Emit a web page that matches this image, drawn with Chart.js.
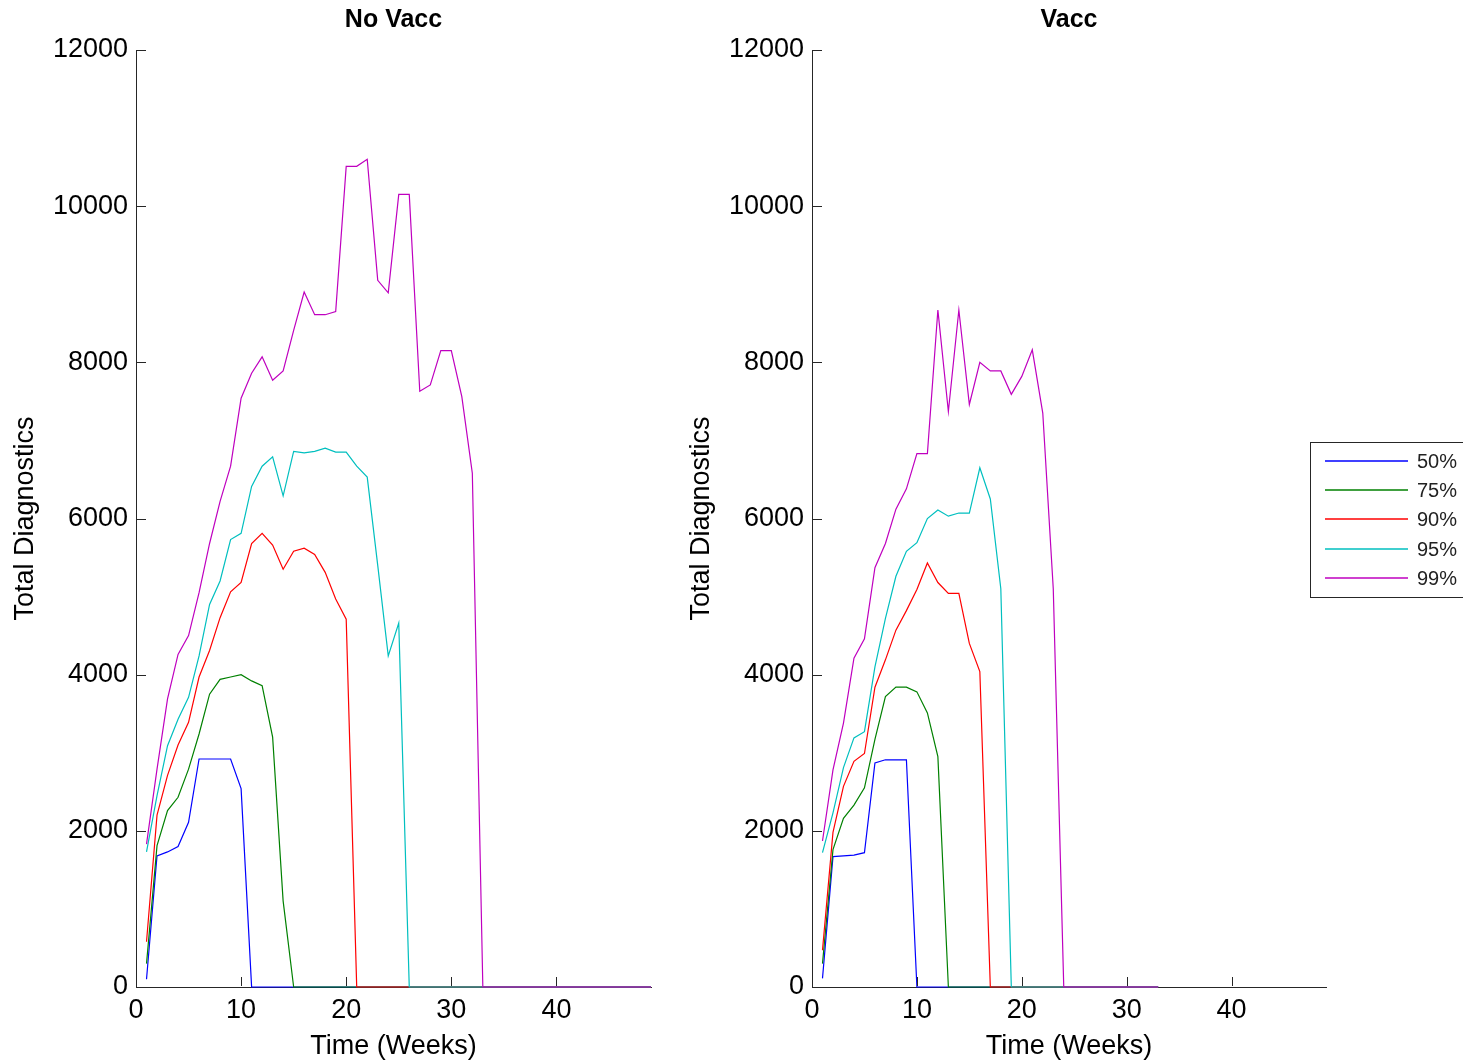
<!DOCTYPE html>
<html>
<head>
<meta charset="utf-8">
<title>Total Diagnostics</title>
<script src="https://cdn.jsdelivr.net/npm/chart.js@4.4.1/dist/chart.umd.min.js"></script>
<style>
    body { margin: 0; background: #fff; }
    #wrap { position: relative; width: 1463px; height: 1061px; overflow: hidden; }
    canvas { position: absolute; top: 0; }
</style>
</head>
<body>
<div id="wrap">
    <canvas id="noVaccChart" width="676" height="1061" style="left:0"></canvas>
    <canvas id="vaccChart" width="787" height="1061" style="left:676px"></canvas>
</div>
<script>
// Weeks on the x axis
const weeks = [
    1, 2, 3, 4, 5, 6, 7, 8, 9, 10, 11, 12, 13, 14, 15, 16, 17, 18, 19, 20,
    21, 22, 23, 24, 25, 26, 27, 28, 29, 30, 31, 32, 33, 34, 35, 36, 37, 38, 39, 40,
    41, 42, 43, 44, 45, 46, 47, 48, 49
];

const seriesLabels = ['50%', '75%', '90%', '95%', '99%'];
const seriesColors = ['#0000ff', '#008000', '#ff0000', '#00bfbf', '#bf00bf'];

const yTicks = [0, 2000, 4000, 6000, 8000, 10000, 12000];
const xTicks = [0, 10, 20, 30, 40];

// No Vacc (49 weeks)
const noVacc50 = [100, 1680, 1730, 1800, 2110, 2920, 2920, 2920, 2920, 2540, 0, 0, 0, 0, 0, 0, 0, 0, 0, 0,
    0, 0, 0, 0, 0, 0, 0, 0, 0, 0, 0, 0, 0, 0, 0, 0, 0, 0, 0, 0, 0, 0, 0, 0, 0, 0, 0, 0, 0];
const noVacc75 = [300, 1810, 2260, 2430, 2790, 3240, 3750, 3940, 3970, 4000, 3920, 3860, 3200, 1100, 0, 0, 0, 0, 0, 0,
    0, 0, 0, 0, 0, 0, 0, 0, 0, 0, 0, 0, 0, 0, 0, 0, 0, 0, 0, 0, 0, 0, 0, 0, 0, 0, 0, 0, 0];
const noVacc90 = [580, 2200, 2710, 3100, 3390, 3970, 4310, 4730, 5060, 5180, 5680, 5810, 5660, 5350, 5580, 5620, 5540, 5310, 4970, 4710,
    0, 0, 0, 0, 0, 0, 0, 0, 0, 0, 0, 0, 0, 0, 0, 0, 0, 0, 0, 0, 0, 0, 0, 0, 0, 0, 0, 0, 0];
const noVacc95 = [1730, 2450, 3090, 3430, 3710, 4240, 4900, 5200, 5730, 5810, 6410, 6670, 6790, 6290, 6860, 6840, 6860, 6900, 6850, 6850,
    6670, 6530, 5400, 4240, 4660, 0, 0, 0, 0, 0, 0, 0, 0, 0, 0, 0, 0, 0, 0, 0, 0, 0, 0, 0, 0, 0, 0, 0, 0];
const noVacc99 = [1830, 2790, 3690, 4260, 4500, 5050, 5680, 6220, 6670, 7540, 7860, 8070, 7770, 7890, 8410, 8900, 8610, 8610, 8650, 10510,
    10510, 10600, 9050, 8890, 10150, 10150, 7630, 7710, 8150, 8150, 7560, 6580, 0, 0, 0, 0, 0, 0, 0, 0, 0, 0, 0, 0, 0, 0, 0, 0, 0];

// Vacc (33 weeks)
const vacc50 = [110, 1670, 1680, 1690, 1720, 2870, 2910, 2910, 2910, 0, 0, 0, 0, 0, 0, 0, 0, 0, 0, 0,
    0, 0, 0, 0, 0, 0, 0, 0, 0, 0, 0, 0, 0];
const vacc75 = [300, 1760, 2160, 2330, 2550, 3170, 3720, 3840, 3840, 3780, 3510, 2950, 0, 0, 0, 0, 0, 0, 0, 0,
    0, 0, 0, 0, 0, 0, 0, 0, 0, 0, 0, 0, 0];
const vacc90 = [470, 1980, 2570, 2890, 2990, 3840, 4190, 4570, 4820, 5090, 5430, 5180, 5040, 5040, 4400, 4040, 0, 0, 0, 0,
    0, 0, 0, 0, 0, 0, 0, 0, 0, 0, 0, 0, 0];
const vacc95 = [1720, 2230, 2810, 3190, 3270, 4100, 4720, 5260, 5580, 5690, 6000, 6110, 6030, 6070, 6070, 6650, 6250, 5100, 0, 0,
    0, 0, 0, 0, 0, 0, 0, 0, 0, 0, 0, 0, 0];
const vacc99 = [1870, 2780, 3380, 4210, 4460, 5370, 5680, 6120, 6380, 6830, 6830, 8670, 7370, 8670, 7460, 8000, 7890, 7890, 7590, 7820,
    8160, 7350, 5100, 0, 0, 0, 0, 0, 0, 0, 0, 0, 0];

const FONT = "'Liberation Sans', Arial, sans-serif";
const AXIS_COLOR = '#262626';

// Build line datasets from the series arrays
function buildDatasets(seriesList) {
    return seriesList.map((values, i) => ({
        label: seriesLabels[i],
        data: values.map((v, k) => ({ x: weeks[k], y: v })),
        borderColor: seriesColors[i],
        backgroundColor: seriesColors[i],
        borderWidth: 1.2,
        pointRadius: 0,
        tension: 0,
        fill: false,
        clip: false, // let the zero tails sit on the axis line
        order: seriesList.length - i // later series on top, like MATLAB
    }));
}

// Tick marks pointing into the plot area
const inwardTicks = {
    id: 'inwardTicks',
    afterDraw(chart) {
        const { ctx, chartArea, scales } = chart;
        ctx.save();
        ctx.strokeStyle = AXIS_COLOR;
        ctx.lineWidth = 1;
        ctx.beginPath();
        scales.x.ticks.forEach(t => {
            const px = Math.round(scales.x.getPixelForValue(t.value)) + 0.5;
            ctx.moveTo(px, chartArea.bottom - 1);
            ctx.lineTo(px, chartArea.bottom - 10);
        });
        scales.y.ticks.forEach(t => {
            const py = Math.round(scales.y.getPixelForValue(t.value)) + 0.5;
            ctx.moveTo(chartArea.left, py);
            ctx.lineTo(chartArea.left + 10, py);
        });
        ctx.stroke();
        ctx.restore();
    }
};

// Boxed legend at the right edge, MATLAB style
const boxLegend = {
    id: 'boxLegend',
    afterDraw(chart, args, opts) {
        if (!opts.display) return;
        const { ctx, chartArea } = chart;
        const mid = (chartArea.top + chartArea.bottom) / 2;
        const x0 = chartArea.right - 16;
        const top = mid - 77;
        ctx.save();
        ctx.fillStyle = '#fff';
        ctx.fillRect(x0, top, 220, 155);
        ctx.strokeStyle = AXIS_COLOR;
        ctx.lineWidth = 1;
        ctx.strokeRect(Math.round(x0) + 0.5, Math.round(top) + 0.5, 220, 155);
        ctx.font = '20px ' + FONT;
        ctx.textBaseline = 'middle';
        ctx.lineWidth = 1.6;
        chart.data.datasets.forEach((ds, i) => {
            const y = Math.round(top + 19.5 + i * 29.2);
            ctx.strokeStyle = ds.borderColor;
            ctx.beginPath();
            ctx.moveTo(x0 + 15, y);
            ctx.lineTo(x0 + 98, y);
            ctx.stroke();
            ctx.fillStyle = '#222';
            ctx.fillText(ds.label, x0 + 107, y + 1);
        });
        ctx.restore();
    }
};

function makeChart(canvasId, title, seriesList, rightPad, showLegend) {
    const canvas = document.getElementById(canvasId);
    return new Chart(canvas, {
        type: 'line',
        data: { datasets: buildDatasets(seriesList) },
        options: {
            responsive: false,
            animation: false,
            layout: { padding: { left: 0, right: rightPad, top: 0, bottom: 0 } },
            plugins: {
                legend: { display: false },
                tooltip: { enabled: false },
                title: {
                    display: true,
                    text: title,
                    fullSize: false,
                    color: '#000',
                    font: { family: FONT, size: 25, weight: 'bold' },
                    padding: { top: 5, bottom: 15 }
                },
                boxLegend: { display: showLegend }
            },
            scales: {
                x: {
                    type: 'linear',
                    min: 0,
                    max: 49,
                    afterFit: (scale) => { scale.height = 74; },
                    afterBuildTicks: (scale) => { scale.ticks = xTicks.map(v => ({ value: v })); },
                    grid: { display: false, drawTicks: false },
                    border: { display: true, color: AXIS_COLOR, width: 1 },
                    ticks: {
                        color: '#000',
                        padding: 7,
                        maxRotation: 0,
                        font: { family: FONT, size: 27 },
                        callback: (value) => String(value)
                    },
                    title: {
                        display: true,
                        text: 'Time (Weeks)',
                        color: '#000',
                        font: { family: FONT, size: 27 },
                        padding: { top: 0, bottom: -2 }
                    }
                },
                y: {
                    min: 0,
                    max: 12000,
                    afterFit: (scale) => { scale.width = 136; },
                    afterBuildTicks: (scale) => { scale.ticks = yTicks.map(v => ({ value: v })); },
                    grid: { display: false, drawTicks: false },
                    border: { display: true, color: AXIS_COLOR, width: 1 },
                    ticks: {
                        color: '#000',
                        padding: 8,
                        font: { family: FONT, size: 27 },
                        callback: (value) => String(value)
                    },
                    title: {
                        display: true,
                        text: 'Total Diagnostics',
                        color: '#000',
                        font: { family: FONT, size: 27 },
                        padding: { top: 9, bottom: 0 }
                    }
                }
            }
        },
        plugins: [inwardTicks, boxLegend]
    });
}

makeChart('noVaccChart', 'No Vacc', [noVacc50, noVacc75, noVacc90, noVacc95, noVacc99], 25, false);
makeChart('vaccChart', 'Vacc', [vacc50, vacc75, vacc90, vacc95, vacc99], 137, true);
</script>
</body>
</html>
